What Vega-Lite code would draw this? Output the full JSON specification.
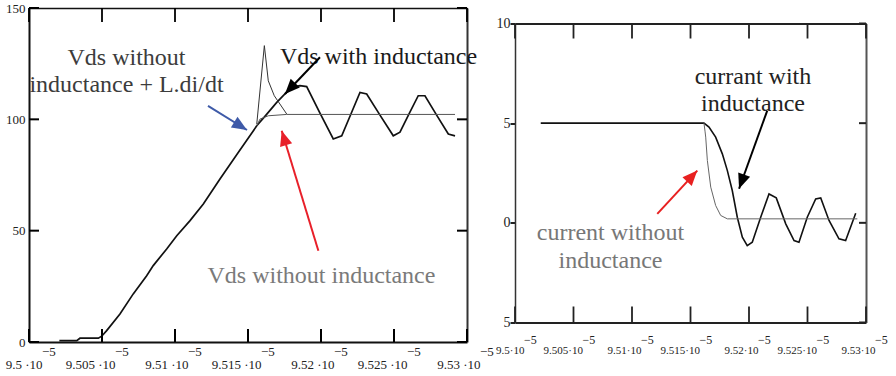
{
  "$schema": "https://vega.github.io/schema/vega-lite/v6.json",
  "background": "white",
  "padding": {"left": 5, "top": 2, "right": 0, "bottom": 0},
  "config": {"font": "Liberation Serif", "view": {"stroke": null}},
  "spacing": 1,
  "center": true,
  "bounds": "full",
  "datasets": {
    "vds": [
      {"s": "with", "t": 9.50208e-5, "v": 0.6}, {"s": "with", "t": 9.50327e-5, "v": 0.6}, {"s": "with", "t": 9.50349e-5, "v": 1.7},
      {"s": "with", "t": 9.50475e-5, "v": 1.7}, {"s": "with", "t": 9.50498e-5, "v": 2.6}, {"s": "with", "t": 9.50532e-5, "v": 5.1},
      {"s": "with", "t": 9.50623e-5, "v": 12.6}, {"s": "with", "t": 9.50714e-5, "v": 21.6}, {"s": "with", "t": 9.50806e-5, "v": 29.8},
      {"s": "with", "t": 9.50851e-5, "v": 34.3}, {"s": "with", "t": 9.50943e-5, "v": 41.8}, {"s": "with", "t": 9.51012e-5, "v": 47.7},
      {"s": "with", "t": 9.51103e-5, "v": 54.5}, {"s": "with", "t": 9.51194e-5, "v": 62.0}, {"s": "with", "t": 9.51308e-5, "v": 73.2},
      {"s": "with", "t": 9.51432e-5, "v": 85.0}, {"s": "with", "t": 9.5156e-5, "v": 97.1}, {"s": "with", "t": 9.51623e-5, "v": 101.9},
      {"s": "with", "t": 9.51697e-5, "v": 107.6}, {"s": "with", "t": 9.51753e-5, "v": 111.4}, {"s": "with", "t": 9.51808e-5, "v": 114.5},
      {"s": "with", "t": 9.51856e-5, "v": 115.1}, {"s": "with", "t": 9.51902e-5, "v": 114.7}, {"s": "with", "t": 9.51993e-5, "v": 102.8},
      {"s": "with", "t": 9.52084e-5, "v": 91.2}, {"s": "with", "t": 9.52142e-5, "v": 92.6}, {"s": "with", "t": 9.52205e-5, "v": 102.4},
      {"s": "with", "t": 9.52267e-5, "v": 112.1}, {"s": "with", "t": 9.52313e-5, "v": 111.4}, {"s": "with", "t": 9.52404e-5, "v": 101.9},
      {"s": "with", "t": 9.52495e-5, "v": 92.6}, {"s": "with", "t": 9.52541e-5, "v": 94.2}, {"s": "with", "t": 9.52603e-5, "v": 102.4},
      {"s": "with", "t": 9.52666e-5, "v": 110.6}, {"s": "with", "t": 9.52712e-5, "v": 110.6}, {"s": "with", "t": 9.52792e-5, "v": 101.9},
      {"s": "with", "t": 9.52872e-5, "v": 93.4}, {"s": "with", "t": 9.52918e-5, "v": 92.6},
      {"s": "without", "t": 9.5156e-5, "v": 97.1}, {"s": "without", "t": 9.51582e-5, "v": 100.1}, {"s": "without", "t": 9.51639e-5, "v": 101.6},
      {"s": "without", "t": 9.51765e-5, "v": 102.2}, {"s": "without", "t": 9.52918e-5, "v": 102.2},
      {"s": "spike", "t": 9.5156e-5, "v": 97.9}, {"s": "spike", "t": 9.51612e-5, "v": 133.1}, {"s": "spike", "t": 9.51639e-5, "v": 117.3},
      {"s": "spike", "t": 9.5168e-5, "v": 110.6}, {"s": "spike", "t": 9.51765e-5, "v": 102.4}
    ],
    "cur": [
      {"s": "with", "t": 9.5022e-5, "v": 5}, {"s": "with", "t": 9.51615e-5, "v": 5}, {"s": "with", "t": 9.51658e-5, "v": 4.8},
      {"s": "with", "t": 9.51715e-5, "v": 4.3}, {"s": "with", "t": 9.51772e-5, "v": 3.46}, {"s": "with", "t": 9.51815e-5, "v": 2.62},
      {"s": "with", "t": 9.51857e-5, "v": 1.62}, {"s": "with", "t": 9.519e-5, "v": 0.28}, {"s": "with", "t": 9.51943e-5, "v": -0.72},
      {"s": "with", "t": 9.51985e-5, "v": -1.14}, {"s": "with", "t": 9.52028e-5, "v": -0.97}, {"s": "with", "t": 9.521e-5, "v": 0.28},
      {"s": "with", "t": 9.52171e-5, "v": 1.45}, {"s": "with", "t": 9.52233e-5, "v": 1.25}, {"s": "with", "t": 9.52314e-5, "v": -0.05},
      {"s": "with", "t": 9.52385e-5, "v": -0.89}, {"s": "with", "t": 9.52427e-5, "v": -0.97}, {"s": "with", "t": 9.52498e-5, "v": 0.28},
      {"s": "with", "t": 9.5257e-5, "v": 1.2}, {"s": "with", "t": 9.52613e-5, "v": 1.25}, {"s": "with", "t": 9.52684e-5, "v": 0.12},
      {"s": "with", "t": 9.52769e-5, "v": -0.8}, {"s": "with", "t": 9.52826e-5, "v": -0.89}, {"s": "with", "t": 9.52912e-5, "v": 0.48},
      {"s": "without", "t": 9.51615e-5, "v": 5}, {"s": "without", "t": 9.51624e-5, "v": 4.6}, {"s": "without", "t": 9.5163e-5, "v": 4.3},
      {"s": "without", "t": 9.51644e-5, "v": 3.13}, {"s": "without", "t": 9.51673e-5, "v": 1.79}, {"s": "without", "t": 9.51715e-5, "v": 0.87},
      {"s": "without", "t": 9.51758e-5, "v": 0.37}, {"s": "without", "t": 9.51815e-5, "v": 0.2}, {"s": "without", "t": 9.52926e-5, "v": 0.2}
    ],
    "ticks": [
      {"t": 9.5e-5}, {"t": 9.505e-5}, {"t": 9.51e-5}, {"t": 9.515e-5}, {"t": 9.52e-5}, {"t": 9.525e-5}, {"t": 9.53e-5}
    ],
    "ytl": [{"v": 0}, {"v": 50}, {"v": 100}, {"v": 150}],
    "ytr": [{"v": -5}, {"v": 0}, {"v": 5}, {"v": 10}],
    "notes": [
      {"id": "lA", "label": "Vds without\ninductance + L.di/dt", "t": 9.50668e-5, "v": 127.5},
      {"id": "lB", "label": "Vds with inductance", "t": 9.52394e-5, "v": 128.0},
      {"id": "lC", "label": "Vds without inductance", "t": 9.52003e-5, "v": 29.6},
      {"id": "rA", "label": "currant with\ninductance", "t": 9.52034e-5, "v": 7.34},
      {"id": "rB", "label": "current without\ninductance", "t": 9.50816e-5, "v": -0.49}
    ],
    "arrows": [
      {"id": "lblue", "t": 9.51226e-5, "v": 106.0, "t2": 9.51493e-5, "v2": 95.2},
      {"id": "lblack", "t": 9.51993e-5, "v": 127.9, "t2": 9.51753e-5, "v2": 111.4},
      {"id": "lred", "t": 9.51982e-5, "v": 41.0, "t2": 9.51731e-5, "v2": 94.9},
      {"id": "rblack", "t": 9.52156e-5, "v": 5.63, "t2": 9.51915e-5, "v2": 1.71},
      {"id": "rred", "t": 9.51216e-5, "v": 0.45, "t2": 9.51558e-5, "v2": 2.62}
    ]
  },
  "hconcat": [
    {
      "width": 438,
      "height": 334,
      "resolve": {"axis": {"x": "independent", "y": "independent"}},
      "layer": [
        {
          "data": {"name": "vds"},
          "transform": [{"filter": "datum.s === 'with'"}],
          "mark": {"type": "line", "color": "#111", "strokeWidth": 1.7},
          "encoding": {
            "x": {"field": "t", "type": "quantitative", "scale": {"domain": [9.5e-5, 9.53e-5], "nice": false, "zero": false},
              "axis": {"orient": "bottom", "title": null, "values": [9.5e-5, 9.505e-5, 9.51e-5, 9.515e-5, 9.52e-5, 9.525e-5, 9.53e-5],
                "labelExpr": "format(datum.value*1e5, '.4~f') + ' ·10'", "labelFont": "Liberation Serif", "labelFontSize": 13, "labelAlign": "right", "labelOffset": 13,
                "labelBaseline": "alphabetic", "labelPadding": 26, "ticks": false, "labelFlush": false, "labelOverlap": false, "grid": false, "minExtent": 0,
                "domainColor": "#111", "domainWidth": 2, "labelColor": "#222"}},
            "y": {"field": "v", "type": "quantitative", "scale": {"domain": [0, 150], "nice": false},
              "axis": {"orient": "left", "title": null, "values": [0, 50, 100, 150], "labelFont": "Liberation Serif", "labelFontSize": 13, "ticks": false, "labelPadding": 4,
                "labelFlush": false, "labelOverlap": false, "grid": false, "minExtent": 0, "domainColor": "#111", "domainWidth": 2, "labelColor": "#222"}}
          }
        },
        {
          "data": {"name": "vds"},
          "transform": [{"filter": "datum.s === 'without'"}],
          "mark": {"type": "line", "color": "#555", "strokeWidth": 1},
          "encoding": {
            "x": {"field": "t", "type": "quantitative",
              "axis": {"orient": "top", "title": null, "labels": false, "ticks": false, "grid": false, "minExtent": 0, "domainColor": "#111", "domainWidth": 1.5}},
            "y": {"field": "v", "type": "quantitative",
              "axis": {"orient": "right", "title": null, "labels": false, "ticks": false, "grid": false, "minExtent": 0, "domainColor": "#333", "domainWidth": 2}}
          }
        },
        {
          "data": {"name": "vds"},
          "transform": [{"filter": "datum.s === 'spike'"}],
          "mark": {"type": "line", "color": "#333", "strokeWidth": 1},
          "encoding": {
            "x": {"field": "t", "type": "quantitative", "axis": null},
            "y": {"field": "v", "type": "quantitative", "axis": null}
          }
        },
        {
          "data": {"name": "ticks"},
          "mark": {"type": "tick", "orient": "vertical", "size": 13, "thickness": 2, "yOffset": -6.5, "color": "#000", "opacity": 1},
          "encoding": {
            "x": {"field": "t", "type": "quantitative", "axis": null},
            "y": {"datum": 0, "type": "quantitative", "axis": null}
          }
        },
        {
          "data": {"name": "ticks"},
          "mark": {"type": "tick", "orient": "vertical", "size": 14, "thickness": 1.8, "yOffset": 7, "color": "#000", "opacity": 1},
          "encoding": {
            "x": {"field": "t", "type": "quantitative", "axis": null},
            "y": {"datum": 150, "type": "quantitative", "axis": null}
          }
        },
        {
          "data": {"name": "ytl"},
          "mark": {"type": "tick", "orient": "horizontal", "size": 10, "thickness": 2, "xOffset": 5, "color": "#000", "opacity": 1},
          "encoding": {
            "y": {"field": "v", "type": "quantitative", "axis": null},
            "x": {"datum": 9.5e-5, "type": "quantitative", "axis": null}
          }
        },
        {
          "data": {"name": "ytl"},
          "mark": {"type": "tick", "orient": "horizontal", "size": 10, "thickness": 2, "xOffset": -5, "color": "#000", "opacity": 1},
          "encoding": {
            "y": {"field": "v", "type": "quantitative", "axis": null},
            "x": {"datum": 9.53e-5, "type": "quantitative", "axis": null}
          }
        },
        {
          "data": {"name": "ticks"},
          "mark": {"type": "text", "text": "−5", "font": "Liberation Serif", "align": "left", "baseline": "alphabetic", "dx": 13, "dy": 14, "fontSize": 13, "color": "#222"},
          "encoding": {
            "x": {"field": "t", "type": "quantitative", "axis": null},
            "y": {"datum": 0, "type": "quantitative", "axis": null}
          }
        },
        {
          "data": {"name": "notes"},
          "transform": [{"filter": "datum.id === 'lA'"}],
          "mark": {"type": "text", "font": "Liberation Serif", "lineBreak": "\n", "fontSize": 24, "lineHeight": 27, "align": "center", "baseline": "middle", "color": "#3c3c3c"},
          "encoding": {
            "x": {"field": "t", "type": "quantitative", "axis": null},
            "y": {"field": "v", "type": "quantitative", "axis": null},
            "text": {"field": "label"}
          }
        },
        {
          "data": {"name": "notes"},
          "transform": [{"filter": "datum.id === 'lB'"}],
          "mark": {"type": "text", "font": "Liberation Serif", "fontSize": 24, "align": "center", "baseline": "middle", "color": "#1a1a1a"},
          "encoding": {
            "x": {"field": "t", "type": "quantitative", "axis": null},
            "y": {"field": "v", "type": "quantitative", "axis": null},
            "text": {"field": "label"}
          }
        },
        {
          "data": {"name": "notes"},
          "transform": [{"filter": "datum.id === 'lC'"}],
          "mark": {"type": "text", "font": "Liberation Serif", "fontSize": 24, "align": "center", "baseline": "middle", "color": "#7a7a7a"},
          "encoding": {
            "x": {"field": "t", "type": "quantitative", "axis": null},
            "y": {"field": "v", "type": "quantitative", "axis": null},
            "text": {"field": "label"}
          }
        },
        {
          "data": {"name": "arrows"},
          "transform": [{"filter": "datum.id === 'lblue'"}],
          "mark": {"type": "rule", "color": "#3e5aa8", "strokeWidth": 2},
          "encoding": {
            "x": {"field": "t", "type": "quantitative", "axis": null}, "y": {"field": "v", "type": "quantitative", "axis": null},
            "x2": {"field": "t2"}, "y2": {"field": "v2"}
          }
        },
        {
          "data": {"name": "arrows"},
          "transform": [{"filter": "datum.id === 'lblue'"}],
          "mark": {"type": "point", "shape": "M0,0L0.42,1L-0.42,1Z", "filled": true, "opacity": 1, "size": 900, "angle": 121.6, "color": "#3e5aa8"},
          "encoding": {
            "x": {"field": "t2", "type": "quantitative", "axis": null}, "y": {"field": "v2", "type": "quantitative", "axis": null}
          }
        },
        {
          "data": {"name": "arrows"},
          "transform": [{"filter": "datum.id === 'lblack'"}],
          "mark": {"type": "rule", "color": "#000", "strokeWidth": 2},
          "encoding": {
            "x": {"field": "t", "type": "quantitative", "axis": null}, "y": {"field": "v", "type": "quantitative", "axis": null},
            "x2": {"field": "t2"}, "y2": {"field": "v2"}
          }
        },
        {
          "data": {"name": "arrows"},
          "transform": [{"filter": "datum.id === 'lblack'"}],
          "mark": {"type": "point", "shape": "M0,0L0.42,1L-0.42,1Z", "filled": true, "opacity": 1, "size": 900, "angle": 223.4, "color": "#000"},
          "encoding": {
            "x": {"field": "t2", "type": "quantitative", "axis": null}, "y": {"field": "v2", "type": "quantitative", "axis": null}
          }
        },
        {
          "data": {"name": "arrows"},
          "transform": [{"filter": "datum.id === 'lred'"}],
          "mark": {"type": "rule", "color": "#e8202a", "strokeWidth": 2},
          "encoding": {
            "x": {"field": "t", "type": "quantitative", "axis": null}, "y": {"field": "v", "type": "quantitative", "axis": null},
            "x2": {"field": "t2"}, "y2": {"field": "v2"}
          }
        },
        {
          "data": {"name": "arrows"},
          "transform": [{"filter": "datum.id === 'lred'"}],
          "mark": {"type": "point", "shape": "M0,0L0.42,1L-0.42,1Z", "filled": true, "opacity": 1, "size": 900, "angle": 343, "color": "#e8202a"},
          "encoding": {
            "x": {"field": "t2", "type": "quantitative", "axis": null}, "y": {"field": "v2", "type": "quantitative", "axis": null}
          }
        }
      ]
    },
    {
      "width": 351,
      "height": 299,
      "resolve": {"axis": {"x": "independent", "y": "independent"}},
      "layer": [
        {
          "data": {"name": "cur"},
          "transform": [{"filter": "datum.s === 'with'"}],
          "mark": {"type": "line", "color": "#111", "strokeWidth": 1.6},
          "encoding": {
            "x": {"field": "t", "type": "quantitative", "scale": {"domain": [9.5e-5, 9.53e-5], "nice": false, "zero": false},
              "axis": {"orient": "bottom", "title": null, "values": [9.5e-5, 9.505e-5, 9.51e-5, 9.515e-5, 9.52e-5, 9.525e-5, 9.53e-5],
                "labelExpr": "format(datum.value*1e5, '.4~f') + '·10'", "labelFont": "Liberation Serif", "labelFontSize": 11, "labelAlign": "right", "labelOffset": 9,
                "labelBaseline": "alphabetic", "labelPadding": 31, "ticks": false, "labelFlush": false, "labelOverlap": false, "grid": false, "minExtent": 0,
                "domainColor": "#222", "domainWidth": 2, "labelColor": "#222"}},
            "y": {"field": "v", "type": "quantitative", "scale": {"domain": [-5, 10], "nice": false, "zero": false},
              "axis": {"orient": "left", "title": null, "values": [-5, 0, 5, 10], "labelExpr": "datum.value < 0 ? '5' : datum.label",
                "labelFont": "Liberation Serif", "labelFontSize": 14, "ticks": true, "tickSize": 5, "tickWidth": 2, "tickColor": "#222", "labelPadding": 0, "minExtent": 0,
                "labelFlush": false, "labelOverlap": false, "grid": false, "domainColor": "#333", "domainWidth": 1.5, "labelColor": "#222"}}
          }
        },
        {
          "data": {"name": "cur"},
          "transform": [{"filter": "datum.s === 'without'"}],
          "mark": {"type": "line", "color": "#666", "strokeWidth": 1},
          "encoding": {
            "x": {"field": "t", "type": "quantitative",
              "axis": {"orient": "top", "title": null, "labels": false, "ticks": false, "grid": false, "minExtent": 0, "domainColor": "#222", "domainWidth": 2}},
            "y": {"field": "v", "type": "quantitative",
              "axis": {"orient": "right", "title": null, "labels": false, "ticks": false, "grid": false, "minExtent": 0, "domainColor": "#555", "domainWidth": 2}}
          }
        },
        {
          "data": {"name": "ticks"},
          "mark": {"type": "tick", "orient": "vertical", "size": 16, "thickness": 1.8, "yOffset": -8, "color": "#222", "opacity": 1},
          "encoding": {
            "x": {"field": "t", "type": "quantitative", "axis": null},
            "y": {"datum": -5, "type": "quantitative", "axis": null}
          }
        },
        {
          "data": {"name": "ticks"},
          "mark": {"type": "tick", "orient": "vertical", "size": 15, "thickness": 1.8, "yOffset": 7.5, "color": "#222", "opacity": 1},
          "encoding": {
            "x": {"field": "t", "type": "quantitative", "axis": null},
            "y": {"datum": 10, "type": "quantitative", "axis": null}
          }
        },
        {
          "data": {"name": "ytr"},
          "mark": {"type": "tick", "orient": "horizontal", "size": 7, "thickness": 2, "xOffset": -3.5, "color": "#222", "opacity": 1},
          "encoding": {
            "y": {"field": "v", "type": "quantitative", "axis": null},
            "x": {"datum": 9.53e-5, "type": "quantitative", "axis": null}
          }
        },
        {
          "data": {"name": "ticks"},
          "mark": {"type": "text", "text": "−5", "font": "Liberation Serif", "align": "left", "baseline": "alphabetic", "dx": 9, "dy": 21, "fontSize": 12, "color": "#222"},
          "encoding": {
            "x": {"field": "t", "type": "quantitative", "axis": null},
            "y": {"datum": -5, "type": "quantitative", "axis": null}
          }
        },
        {
          "data": {"name": "notes"},
          "transform": [{"filter": "datum.id === 'rA'"}],
          "mark": {"type": "text", "font": "Liberation Serif", "lineBreak": "\n", "fontSize": 24, "lineHeight": 27, "align": "center", "baseline": "middle", "color": "#222"},
          "encoding": {
            "x": {"field": "t", "type": "quantitative", "axis": null},
            "y": {"field": "v", "type": "quantitative", "axis": null},
            "text": {"field": "label"}
          }
        },
        {
          "data": {"name": "notes"},
          "transform": [{"filter": "datum.id === 'rB'"}],
          "mark": {"type": "text", "font": "Liberation Serif", "lineBreak": "\n", "fontSize": 24, "lineHeight": 28, "align": "center", "baseline": "middle", "color": "#777"},
          "encoding": {
            "x": {"field": "t", "type": "quantitative", "axis": null},
            "y": {"field": "v", "type": "quantitative", "axis": null},
            "text": {"field": "label"}
          }
        },
        {
          "data": {"name": "arrows"},
          "transform": [{"filter": "datum.id === 'rblack'"}],
          "mark": {"type": "rule", "color": "#000", "strokeWidth": 2},
          "encoding": {
            "x": {"field": "t", "type": "quantitative", "axis": null}, "y": {"field": "v", "type": "quantitative", "axis": null},
            "x2": {"field": "t2"}, "y2": {"field": "v2"}
          }
        },
        {
          "data": {"name": "arrows"},
          "transform": [{"filter": "datum.id === 'rblack'"}],
          "mark": {"type": "point", "shape": "M0,0L0.42,1L-0.42,1Z", "filled": true, "opacity": 1, "size": 900, "angle": 199.9, "color": "#000"},
          "encoding": {
            "x": {"field": "t2", "type": "quantitative", "axis": null}, "y": {"field": "v2", "type": "quantitative", "axis": null}
          }
        },
        {
          "data": {"name": "arrows"},
          "transform": [{"filter": "datum.id === 'rred'"}],
          "mark": {"type": "rule", "color": "#e82020", "strokeWidth": 2},
          "encoding": {
            "x": {"field": "t", "type": "quantitative", "axis": null}, "y": {"field": "v", "type": "quantitative", "axis": null},
            "x2": {"field": "t2"}, "y2": {"field": "v2"}
          }
        },
        {
          "data": {"name": "arrows"},
          "transform": [{"filter": "datum.id === 'rred'"}],
          "mark": {"type": "point", "shape": "M0,0L0.42,1L-0.42,1Z", "filled": true, "opacity": 1, "size": 900, "angle": 42.7, "color": "#e82020"},
          "encoding": {
            "x": {"field": "t2", "type": "quantitative", "axis": null}, "y": {"field": "v2", "type": "quantitative", "axis": null}
          }
        }
      ]
    }
  ]
}
